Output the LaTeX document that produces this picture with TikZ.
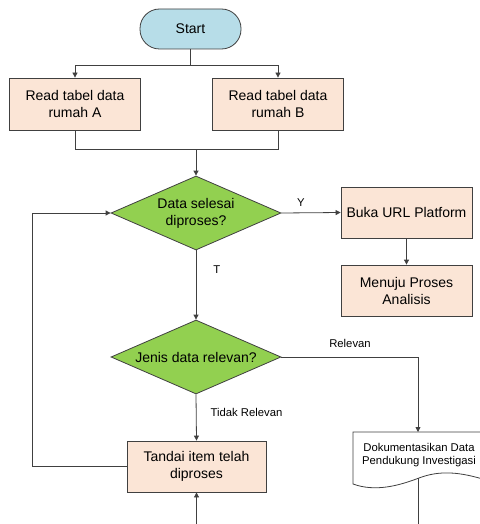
\documentclass[tikz,border=0pt]{standalone}
\usepackage{fontspec}
\setmainfont{Liberation Sans}
\usetikzlibrary{shapes.geometric,arrows.meta}
\definecolor{startblue}{HTML}{B7DDE8}
\definecolor{boxpeach}{HTML}{FBE5D6}
\definecolor{dgreen}{HTML}{92D050}
\definecolor{lin}{HTML}{404040}
\tikzset{
  base/.style={draw=lin, line width=0.8pt, inner sep=0pt, align=center, font=\fontsize{14}{17}\selectfont},
  startbox/.style={base, fill=startblue, rounded corners=19.5pt, minimum width=101pt, minimum height=40pt},
  procbox/.style={base, fill=boxpeach, minimum width=131pt, minimum height=52pt},
  decbox/.style={base, diamond, fill=dgreen, minimum width=170pt, minimum height=74pt, aspect=2.3},
  conn/.style={draw=lin, line width=0.8pt},
  arr/.style={conn, -{Triangle[length=5pt,width=5pt]}},
  lbl/.style={font=\fontsize{11.3}{13}\selectfont, inner sep=0pt}
}
\begin{document}
\begin{tikzpicture}[x=1pt,y=-1pt]
\useasboundingbox (0,0) rectangle (479,524);
\node[startbox] (start) at (190.5,29) {Start};
\node[procbox] (A) at (75,104) {Read tabel data\\rumah A};
\node[procbox] (B) at (278,104) {Read tabel data\\rumah B};
\node[decbox] (d1) at (196,213) {Data selesai\\diproses?};
\node[procbox, minimum height=51pt] (buka) at (406.5,212.5) {Buka URL Platform};
\node[procbox, minimum height=51pt] (menuju) at (406.5,290.5) {Menuju Proses\\Analisis};
\node[decbox] (d2) at (196,357) {Jenis data relevan?};
\node[procbox, minimum width=139pt, minimum height=51pt] (tandai) at (196.5,466.5) {Tandai item telah\\diproses};
% document shape
\draw[conn, fill=white] (353,432) -- (486,432) -- (486,480)
  .. controls (460,472) and (440,470) .. (419,478)
  .. controls (398,486) and (375,492) .. (353,484) -- cycle;
\node[lbl, align=center] (doc) at (419,455) {Dokumentasikan Data\\Pendukung Investigasi};
\coordinate (doctop) at (418,432);
\coordinate (docbot) at (418,478);
\coordinate (bot) at (418,524);
\coordinate (tbot) at (196.5,524);
% connectors
\coordinate (split) at (190.5,65);
\draw[conn] (start.south) -- (split);
\draw[arr] (split) -| (A.north);
\draw[arr] (split) -| (B.north);
\coordinate (merge) at (196,149);
\draw[conn] (A.south) |- (merge);
\draw[conn] (B.south) |- (merge);
\draw[arr] (merge) -- (d1.north);
\draw[arr] (d1.east) -- node[lbl, pos=0.33, above=6pt] {Y} (buka.west);
\draw[arr] (buka.south) -- (menuju.north);
\draw[arr] (d1.south) -- node[lbl, pos=0.28, right=17pt] {T} (d2.north);
\coordinate (relc) at (418,357);
\draw[arr] (d2.east) -- (relc) -- (doctop);
\node[lbl] (rel) at (350,343.5) {Relevan};
\draw[arr] (d2.south) -- node[lbl, pos=0.4, right=14pt] {Tidak Relevan} (tandai.north);
\coordinate (loopc) at (32,466.5);
\draw[arr] (tandai.west) -- (loopc) |- (d1.west);
\draw[arr] (tbot) -- (tandai.south);
\draw[conn] (docbot) -- (bot);
\end{tikzpicture}
\end{document}
